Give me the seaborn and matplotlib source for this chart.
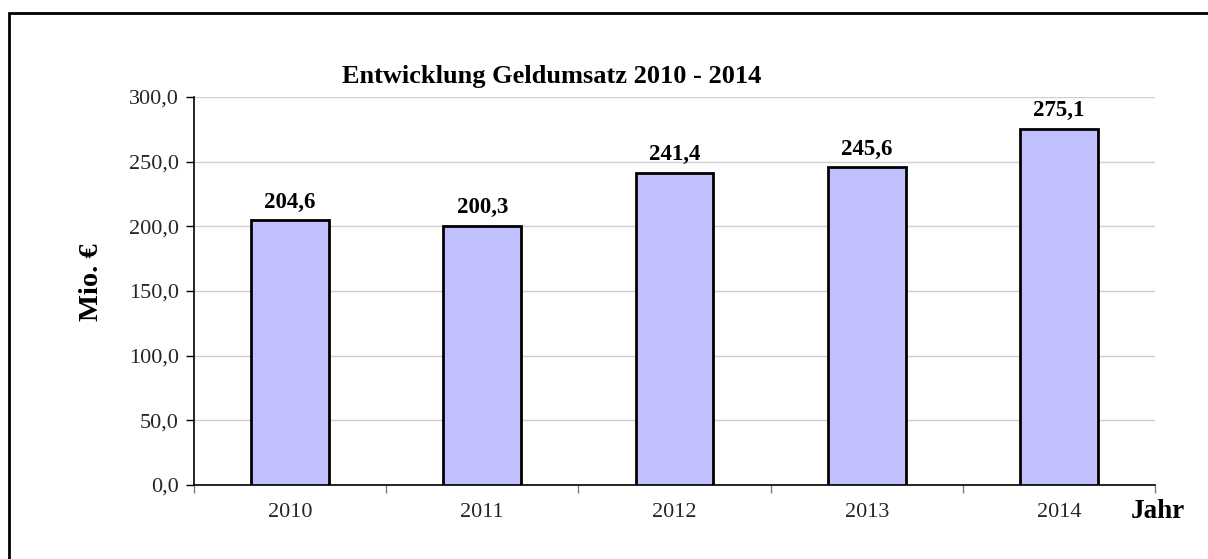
import matplotlib
matplotlib.use("Agg")
import matplotlib.pyplot as plt
import seaborn as sns
import pandas as pd
from matplotlib.patches import Rectangle
from matplotlib.ticker import FuncFormatter, MultipleLocator

years = ["2010", "2011", "2012", "2013", "2014"]
values = [204.6, 200.3, 241.4, 245.6, 275.1]

sns.set_theme(style="white")
plt.rcParams["font.family"] = ["Liberation Serif", "DejaVu Serif"]

df = pd.DataFrame({"Jahr": years, "Wert": values})

W, H = 1208, 559
fig = plt.figure(figsize=(W / 100, H / 100), dpi=100)
ax = fig.add_axes([194 / W, 1 - 485 / H, (1155 - 194) / W, (485 - 97) / H])

sns.barplot(data=df, x="Jahr", y="Wert", color="#c0c0ff", saturation=1,
            width=0.405, edgecolor="black", linewidth=2, ax=ax, zorder=3)

ax.set_xlim(-0.5, 4.5)
ax.set_ylim(0, 300)
ax.yaxis.set_major_locator(MultipleLocator(50))
ax.yaxis.set_major_formatter(FuncFormatter(lambda v, p: f"{v:.1f}".replace(".", ",")))
ax.grid(axis="y", color="#d0d0d0", linewidth=1, zorder=0)
ax.set_axisbelow(True)

for s in ["top", "right"]:
    ax.spines[s].set_visible(False)
for s in ["left", "bottom"]:
    ax.spines[s].set_color("black")
    ax.spines[s].set_linewidth(1.2)

ax.tick_params(axis="y", which="major", length=6, width=1, color="black",
               labelsize=16, pad=5, left=True)
ax.set_xticks([i for i in range(len(years))])
ax.set_xticklabels(years)
ax.tick_params(axis="x", which="major", length=0, labelsize=16, pad=13)
ax.set_xticks([i - 0.5 for i in range(len(years) + 1)], minor=True)
ax.tick_params(axis="x", which="minor", length=6, width=1, color="#808080", bottom=True)

ax.set_xlabel("")
ax.set_ylabel("")

for i, v in enumerate(values):
    ax.text(i, v + 6, f"{v:.1f}".replace(".", ","), ha="center", va="bottom",
            fontsize=16.5, fontweight="bold", color="black")

fig.text(552 / W, 1 - 77 / H, "Entwicklung Geldumsatz 2010 - 2014", ha="center",
         va="center", fontsize=19, fontweight="bold", color="black")
fig.text(92 / W, 1 - 282 / H, "Mio. €", rotation=90, ha="center", va="center",
         fontsize=20.5, fontweight="bold", color="black")
fig.text(1158 / W, 1 - 512 / H, "Jahr", ha="center", va="center",
         fontsize=19.5, fontweight="bold", color="black")

fig.patches.append(Rectangle((9 / W, -0.1), 1.2, 1 - 13 / H + 0.1, transform=fig.transFigure,
                             fill=False, edgecolor="black", linewidth=2, zorder=10))

fig.savefig("out.png", dpi=100)
